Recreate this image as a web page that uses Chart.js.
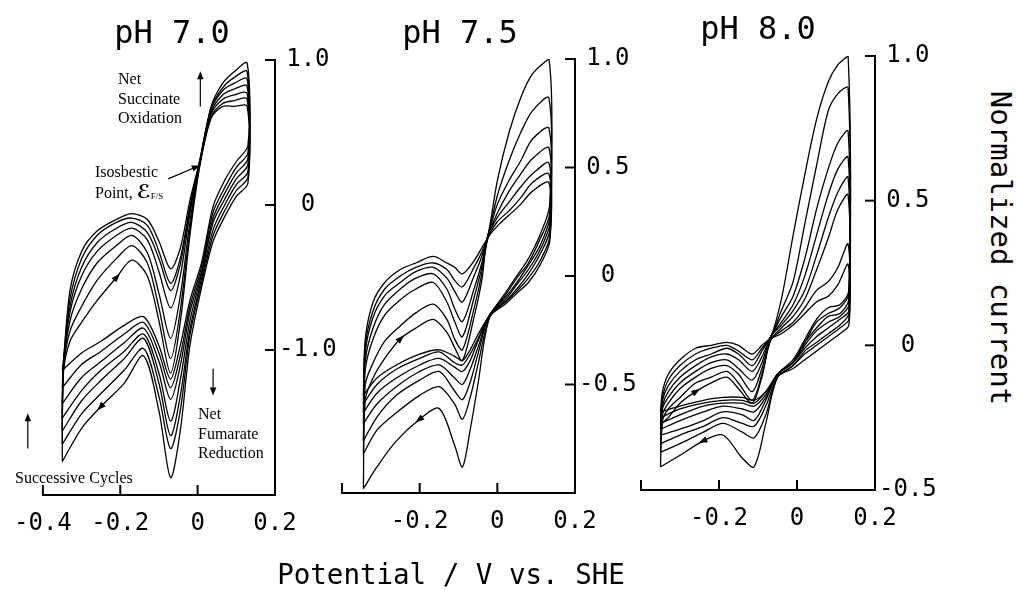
<!DOCTYPE html>
<html>
<head>
<meta charset="utf-8">
<script src="https://cdn.jsdelivr.net/npm/chart.js@4.4.1/dist/chart.umd.min.js"></script>
<style>
  body { margin: 0; background: #fff; width: 1016px; height: 590px; position: relative; overflow: hidden; font-family: 'DejaVu Sans Mono', monospace; }
  canvas { position: absolute; top: 0; }
  .t { position: absolute; white-space: nowrap; line-height: 1; transform: translate(-50%, -50%); color: #000; }
  .note { position: absolute; font-family: 'Liberation Serif', 'Times New Roman', serif; font-size: 16px; line-height: 19.5px; color: #000; white-space: nowrap; }
  .note sub { font-size: 9px; vertical-align: -1px; }
  .script { font-family: 'DejaVu Serif', 'DejaVu Sans', serif; font-size: 19px; font-weight: bold; }
</style>
</head>
<body>
<canvas id="c70" width="360" height="560" style="left:0px"></canvas>
<canvas id="c75" width="360" height="560" style="left:300px"></canvas>
<canvas id="c80" width="360" height="560" style="left:599px"></canvas>

<div class="t" style="left:172px; top:32px; font-size:32px;">pH 7.0</div>
<div class="t" style="left:460px; top:32px; font-size:32px;">pH 7.5</div>
<div class="t" style="left:758px; top:28px; font-size:32px;">pH 8.0</div>
<div class="t" style="left:451px; top:575px; font-size:27.5px;">Potential / V vs. SHE</div>
<div class="t" style="left:1000px; top:248px; font-size:29px; transform:translate(-50%,-50%) rotate(90deg);">Normalized current</div>

<div class="note" style="left:118px; top:69px;">Net<br>Succinate<br>Oxidation</div>
<div class="note" style="left:95px; top:162px;">Isosbestic<br>Point, <span class="script">ℰ</span><sub>F/S</sub></div>
<div class="note" style="left:198px; top:404px;">Net<br>Fumarate<br>Reduction</div>
<div class="note" style="left:15px; top:468px;">Successive Cycles</div>

<script>
// potential of every point in a cycle (V vs. SHE): forward sweep, then reverse sweep
const potential70 = [-0.35, -0.347, -0.33, -0.30, -0.26, -0.21, -0.17, -0.13, -0.10, -0.07, -0.045, -0.02, 0.005, 0.035, 0.065, 0.095, 0.128,
                     0.13, 0.10, 0.07, 0.04, 0.01, -0.02, -0.045, -0.07, -0.10, -0.14, -0.19, -0.25, -0.30, -0.35];
const potential75 = [-0.345, -0.34, -0.32, -0.29, -0.25, -0.21, -0.165, -0.13, -0.11, -0.09, -0.06, -0.04, -0.025, 0.0, 0.03, 0.06, 0.09, 0.133,
                     0.135, 0.11, 0.08, 0.05, 0.02, -0.02, -0.05, -0.07, -0.09, -0.11, -0.15, -0.20, -0.26, -0.31, -0.345];
const potential80 = [-0.35, -0.345, -0.33, -0.30, -0.26, -0.22, -0.18, -0.15, -0.115, -0.09, -0.067, -0.04, -0.01, 0.02, 0.05, 0.08, 0.105, 0.131,
                     0.133, 0.11, 0.08, 0.05, 0.02, -0.01, -0.05, -0.08, -0.11, -0.14, -0.19, -0.24, -0.30, -0.35];

// normalized current, one row per cycle
const current70 = [
  [-1.77, -1.16, -0.94, -0.81, -0.66, -0.50, -0.38, -0.49, -0.80, -1.16, -0.81, -0.21, 0.26, 0.60, 0.68, 0.68, 0.68,
   0.15, 0.06, -0.08, -0.25, -0.57, -0.97, -1.56, -1.88, -1.42, -1.04, -1.23, -1.39, -1.54, -1.77],
  [-1.65, -1.14, -0.87, -0.70, -0.52, -0.37, -0.28, -0.40, -0.71, -1.06, -0.73, -0.17, 0.27, 0.61, 0.70, 0.72, 0.73,
   0.19, 0.10, -0.04, -0.21, -0.54, -0.90, -1.42, -1.68, -1.32, -0.99, -1.14, -1.30, -1.44, -1.65],
  [-1.56, -1.13, -0.80, -0.58, -0.40, -0.28, -0.21, -0.33, -0.61, -0.92, -0.63, -0.12, 0.28, 0.63, 0.73, 0.76, 0.77,
   0.23, 0.14, 0.00, -0.17, -0.51, -0.86, -1.32, -1.59, -1.23, -0.92, -1.06, -1.21, -1.35, -1.56],
  [-1.47, -1.12, -0.74, -0.49, -0.32, -0.21, -0.16, -0.24, -0.46, -0.71, -0.49, -0.06, 0.28, 0.64, 0.76, 0.80, 0.82,
   0.28, 0.18, 0.04, -0.12, -0.48, -0.80, -1.21, -1.49, -1.16, -0.89, -1.01, -1.14, -1.28, -1.47],
  [-1.37, -1.10, -0.70, -0.43, -0.26, -0.16, -0.12, -0.19, -0.37, -0.59, -0.41, -0.03, 0.29, 0.66, 0.79, 0.84, 0.87,
   0.32, 0.22, 0.08, -0.09, -0.46, -0.74, -1.11, -1.34, -1.08, -0.85, -0.95, -1.08, -1.19, -1.37],
  [-1.26, -1.09, -0.65, -0.37, -0.21, -0.12, -0.09, -0.14, -0.32, -0.54, -0.37, -0.01, 0.30, 0.67, 0.81, 0.88, 0.92,
   0.36, 0.26, 0.12, -0.05, -0.43, -0.70, -1.04, -1.26, -1.02, -0.81, -0.89, -1.01, -1.10, -1.26],
  [-1.14, -1.08, -0.59, -0.32, -0.18, -0.10, -0.06, -0.10, -0.25, -0.44, -0.30, 0.03, 0.30, 0.68, 0.84, 0.92, 0.98,
   0.41, 0.30, 0.17, -0.01, -0.40, -0.66, -0.97, -1.20, -0.97, -0.77, -0.83, -0.94, -1.02, -1.14]
];
const current75 = [
  [-0.98, -0.57, -0.47, -0.38, -0.29, -0.24, -0.20, -0.26, -0.33, -0.39, -0.19, -0.02, 0.17, 0.23, 0.28, 0.33, 0.39, 0.43,
   0.16, 0.05, -0.03, -0.08, -0.13, -0.19, -0.50, -0.71, -0.88, -0.78, -0.61, -0.66, -0.76, -0.88, -0.98],
  [-0.82, -0.50, -0.40, -0.30, -0.23, -0.17, -0.13, -0.20, -0.29, -0.34, -0.15, 0.01, 0.17, 0.25, 0.30, 0.36, 0.43, 0.47,
   0.18, 0.07, -0.01, -0.07, -0.12, -0.19, -0.41, -0.56, -0.66, -0.59, -0.51, -0.55, -0.63, -0.71, -0.82],
  [-0.76, -0.43, -0.29, -0.18, -0.11, -0.06, -0.03, -0.12, -0.21, -0.28, -0.10, 0.04, 0.18, 0.27, 0.34, 0.41, 0.47, 0.52,
   0.21, 0.10, 0.01, -0.06, -0.12, -0.18, -0.36, -0.49, -0.57, -0.53, -0.44, -0.48, -0.55, -0.65, -0.76],
  [-0.68, -0.39, -0.24, -0.13, -0.06, -0.01, 0.01, -0.06, -0.15, -0.21, -0.06, 0.06, 0.18, 0.29, 0.39, 0.47, 0.54, 0.59,
   0.24, 0.12, 0.03, -0.04, -0.11, -0.18, -0.33, -0.43, -0.50, -0.47, -0.41, -0.44, -0.51, -0.59, -0.68],
  [-0.63, -0.35, -0.19, -0.09, -0.03, 0.02, 0.04, -0.01, -0.07, -0.12, 0.00, 0.09, 0.18, 0.33, 0.44, 0.53, 0.63, 0.68,
   0.27, 0.14, 0.05, -0.03, -0.10, -0.18, -0.30, -0.39, -0.44, -0.42, -0.38, -0.41, -0.47, -0.54, -0.63],
  [-0.59, -0.32, -0.16, -0.06, 0.00, 0.04, 0.06, 0.03, -0.02, -0.05, 0.04, 0.11, 0.18, 0.37, 0.53, 0.66, 0.76, 0.82,
   0.29, 0.17, 0.06, -0.01, -0.09, -0.18, -0.29, -0.36, -0.41, -0.40, -0.35, -0.38, -0.43, -0.50, -0.59],
  [-0.55, -0.29, -0.12, -0.03, 0.03, 0.06, 0.09, 0.06, 0.04, 0.01, 0.07, 0.13, 0.18, 0.44, 0.66, 0.82, 0.93, 1.00,
   0.33, 0.19, 0.08, 0.00, -0.08, -0.18, -0.27, -0.34, -0.39, -0.37, -0.34, -0.36, -0.41, -0.47, -0.55]
];
const current80 = [
  [-0.42, -0.27, -0.25, -0.20, -0.16, -0.13, -0.11, -0.15, -0.20, -0.11, 0.02, 0.04, 0.07, 0.11, 0.15, 0.17, 0.21, 0.28,
   0.07, 0.04, 0.01, -0.02, -0.05, -0.08, -0.11, -0.27, -0.42, -0.39, -0.31, -0.33, -0.38, -0.42],
  [-0.37, -0.26, -0.22, -0.18, -0.13, -0.11, -0.09, -0.13, -0.19, -0.10, 0.02, 0.05, 0.08, 0.13, 0.19, 0.22, 0.27, 0.35,
   0.09, 0.06, 0.03, 0.00, -0.03, -0.07, -0.11, -0.24, -0.32, -0.30, -0.27, -0.30, -0.34, -0.37],
  [-0.34, -0.24, -0.20, -0.15, -0.11, -0.08, -0.07, -0.10, -0.16, -0.08, 0.02, 0.06, 0.10, 0.16, 0.26, 0.37, 0.47, 0.52,
   0.11, 0.07, 0.04, 0.01, -0.02, -0.07, -0.11, -0.21, -0.28, -0.27, -0.25, -0.28, -0.31, -0.34],
  [-0.31, -0.22, -0.18, -0.13, -0.09, -0.06, -0.05, -0.08, -0.12, -0.06, 0.03, 0.07, 0.12, 0.19, 0.31, 0.44, 0.53, 0.58,
   0.12, 0.09, 0.06, 0.03, -0.01, -0.06, -0.10, -0.19, -0.26, -0.24, -0.23, -0.26, -0.29, -0.31],
  [-0.29, -0.21, -0.16, -0.11, -0.07, -0.04, -0.03, -0.05, -0.09, -0.04, 0.03, 0.08, 0.14, 0.24, 0.38, 0.52, 0.61, 0.65,
   0.14, 0.10, 0.08, 0.05, 0.00, -0.06, -0.10, -0.18, -0.23, -0.22, -0.21, -0.23, -0.26, -0.29],
  [-0.27, -0.19, -0.14, -0.09, -0.05, -0.03, -0.01, -0.03, -0.07, -0.02, 0.03, 0.10, 0.17, 0.30, 0.47, 0.61, 0.70, 0.74,
   0.16, 0.11, 0.10, 0.06, 0.01, -0.06, -0.10, -0.17, -0.21, -0.20, -0.20, -0.21, -0.24, -0.27],
  [-0.25, -0.18, -0.12, -0.07, -0.03, -0.01, 0.00, -0.02, -0.05, -0.01, 0.03, 0.12, 0.22, 0.42, 0.62, 0.81, 0.87, 0.89,
   0.18, 0.13, 0.11, 0.08, 0.01, -0.05, -0.10, -0.16, -0.20, -0.19, -0.19, -0.20, -0.22, -0.25],
  [-0.23, -0.16, -0.10, -0.05, -0.01, 0.00, 0.01, 0.00, -0.03, 0.00, 0.03, 0.16, 0.38, 0.59, 0.78, 0.91, 0.97, 1.00,
   0.19, 0.14, 0.13, 0.09, 0.02, -0.05, -0.10, -0.16, -0.19, -0.18, -0.18, -0.19, -0.21, -0.23]
];

// axis ticks and their labels
const xTicks = [-0.4, -0.2, 0, 0.2];
const xLabels70 = ['-0.4', '-0.2', '0', '0.2'];
const xLabels = ['', '-0.2', '0', '0.2'];
const yTicks70 = [-2, -1, 0, 1];
const yLabels70 = ['', '-1.0', '0', '1.0'];
const yTicks75 = [-1, -0.5, 0, 0.5, 1];
const yLabels75 = ['', '-0.5', '0', '0.5', '1.0'];
const yTicks80 = [-0.5, 0, 0.5, 1];
const yLabels80 = ['-0.5', '0', '0.5', '1.0'];

const tickFont = { family: 'DejaVu Sans Mono', size: 24 };

// small filled arrow head at pixel (x, y) pointing along (dx, dy)
function head(ctx, x, y, dx, dy, len) {
  const a = Math.atan2(dy, dx);
  ctx.save();
  ctx.translate(x, y);
  ctx.rotate(a);
  ctx.beginPath();
  ctx.moveTo(len * 0.6, 0);
  ctx.lineTo(-len * 0.4, -3.2);
  ctx.lineTo(-len * 0.4, 3.2);
  ctx.closePath();
  ctx.fill();
  ctx.restore();
}

// inward tick marks, direction heads on the curves and annotation arrows
function marks(heads, arrows) {
  return {
    id: 'marks',
    afterDraw(chart) {
      const { ctx, chartArea: a, scales: { x, y } } = chart;
      ctx.save();
      ctx.strokeStyle = '#000';
      ctx.fillStyle = '#000';
      ctx.lineWidth = 2;
      x.ticks.forEach(t => {
        const px = x.getPixelForValue(t.value);
        ctx.beginPath(); ctx.moveTo(px, a.bottom); ctx.lineTo(px, a.bottom - 10); ctx.stroke();
      });
      y.ticks.forEach(t => {
        const py = y.getPixelForValue(t.value);
        ctx.beginPath(); ctx.moveTo(a.right, py); ctx.lineTo(a.right - 10, py); ctx.stroke();
      });
      heads.forEach(h => {
        const pts = chart.getDatasetMeta(h.cycle).data;
        const p = pts[h.index], p0 = pts[h.index - 1], p1 = pts[h.index + 1];
        head(ctx, p.x, p.y, p1.x - p0.x, p1.y - p0.y, 9);
      });
      ctx.lineWidth = 1.2;
      arrows.forEach(r => {
        const x0 = x.getPixelForValue(r[0]), y0 = y.getPixelForValue(r[1]);
        const x1 = x.getPixelForValue(r[2]), y1 = y.getPixelForValue(r[3]);
        ctx.beginPath(); ctx.moveTo(x0, y0); ctx.lineTo(x1, y1); ctx.stroke();
        head(ctx, x1, y1, x1 - x0, y1 - y0, 8);
      });
      ctx.restore();
    }
  };
}

function makePanel(id, potential, currents, yMin, yMax, yTicks, yLabels, xLbls, pad, heads, arrows) {
  const datasets = currents.map(cyc => ({
    data: potential.map((e, i) => ({ x: e, y: cyc[i] })),
    borderColor: '#000',
    borderWidth: 1.3,
    showLine: true,
    pointRadius: 0,
    tension: 0.3,
    fill: false
  }));
  return new Chart(document.getElementById(id), {
    type: 'scatter',
    data: { datasets },
    options: {
      responsive: false,
      animation: false,
      layout: { padding: pad },
      plugins: { legend: { display: false }, tooltip: { enabled: false } },
      scales: {
        x: {
          type: 'linear', min: -0.4, max: 0.2,
          afterBuildTicks: s => { s.ticks = xTicks.map(v => ({ value: v })); },
          afterFit: s => { s.height = 45; },
          ticks: { callback: (v, i) => xLbls[i], font: tickFont, color: '#000', padding: 14, maxRotation: 0, autoSkip: false },
          grid: { display: true, drawOnChartArea: false, drawTicks: false },
          border: { display: true, color: '#000', width: 2 }
        },
        y: {
          type: 'linear', position: 'right', min: yMin, max: yMax,
          afterBuildTicks: s => { s.ticks = yTicks.map(v => ({ value: v })); },
          afterFit: s => { s.width = 70; },
          ticks: { callback: (v, i) => yLabels[i], font: tickFont, color: '#000', padding: 4, crossAlign: 'center', autoSkip: false },
          grid: { display: true, drawOnChartArea: false, drawTicks: false },
          border: { display: true, color: '#000', width: 2 }
        }
      }
    },
    plugins: [marks(heads, arrows)]
  });
}

makePanel('c70', potential70, current70, -2, 1, yTicks70, yLabels70, xLabels70,
  { left: 42, top: 60, right: 15, bottom: 20 },
  [{ cycle: 0, index: 5 }, { cycle: 0, index: 28 }],
  [[0.007, 0.68, 0.007, 0.89], [-0.076, 0.18, -0.006, 0.26], [0.040, -1.13, 0.040, -1.28], [-0.439, -1.68, -0.439, -1.47]]);

makePanel('c75', potential75, current75, -1, 1, yTicks75, yLabels75, xLabels,
  { left: 42, top: 59, right: 15, bottom: 22 },
  [{ cycle: 0, index: 4 }, { cycle: 0, index: 29 }], []);

makePanel('c80', potential80, current80, -0.5, 1, yTicks80, yLabels80, xLabels,
  { left: 42, top: 56, right: 14, bottom: 25 },
  [{ cycle: 0, index: 4 }, { cycle: 0, index: 29 }], []);
</script>
</body>
</html>
